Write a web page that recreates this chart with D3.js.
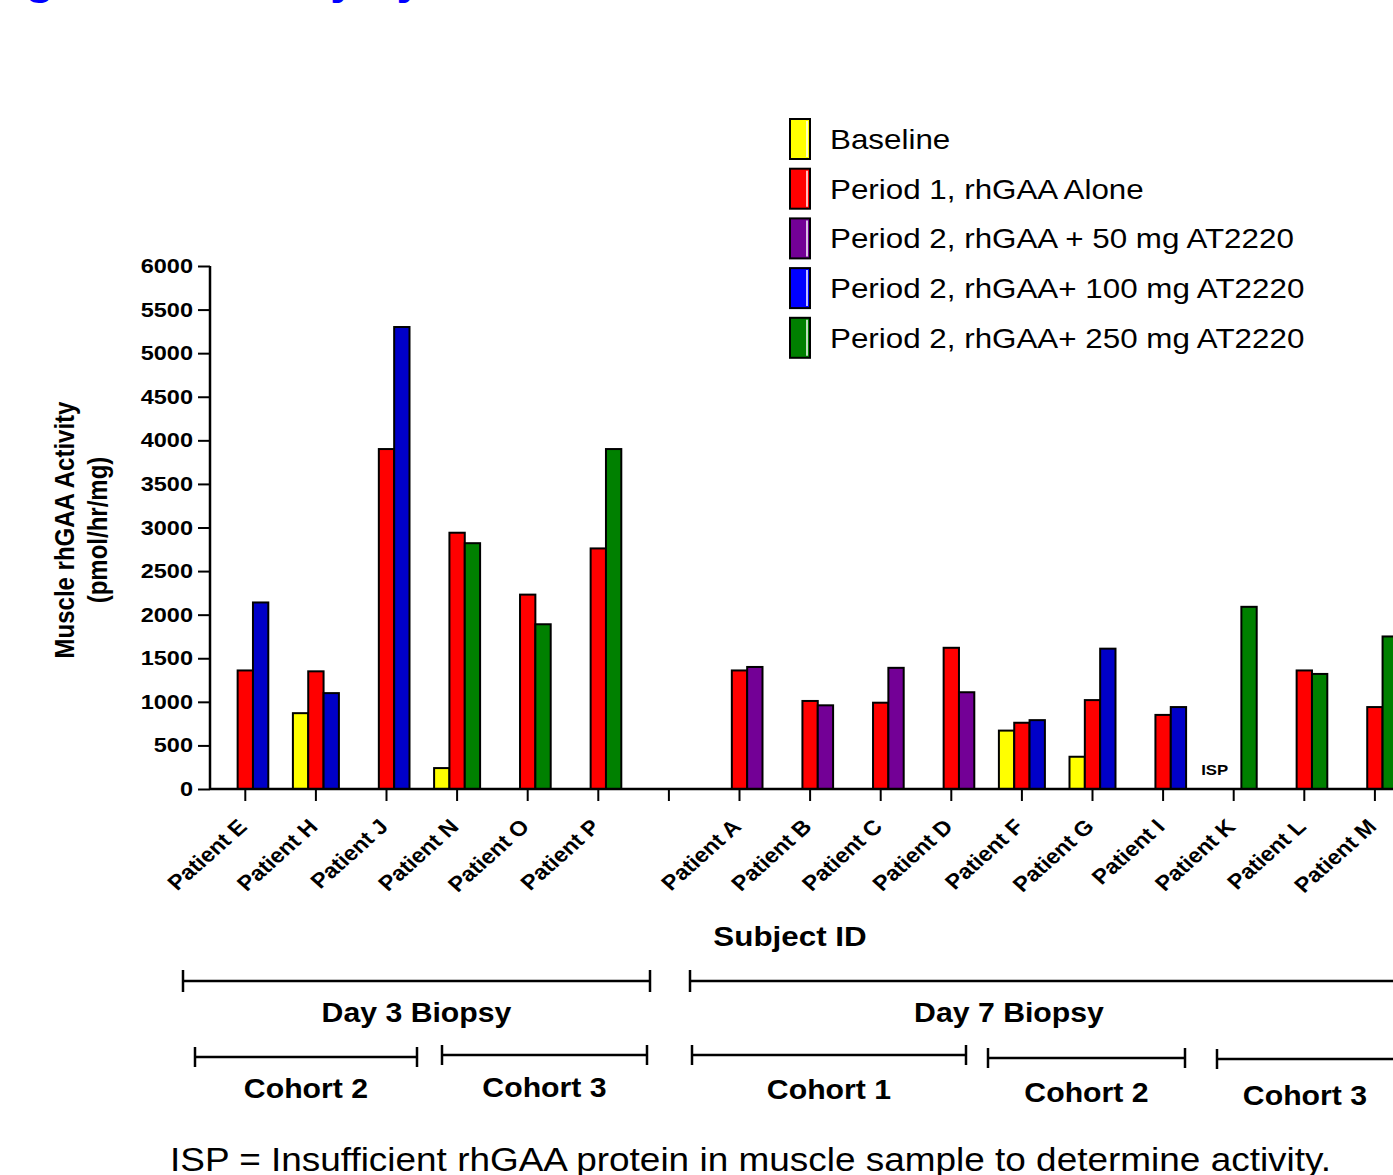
<!DOCTYPE html>
<html>
<head>
<meta charset="UTF-8">
<title>Muscle rhGAA Activity by Subject</title>
<script src="https://cdnjs.cloudflare.com/ajax/libs/d3/7.8.5/d3.min.js"></script>
<style>
* { margin: 0; padding: 0; }
body { background: #fff; overflow: hidden; }
#chart { display: block; width: 1393px; height: 1175px; }
text { font-family: "Liberation Sans", Arial, sans-serif; fill: #000; }
</style>
</head>
<body>
<svg id="chart"></svg>
<script>
// categories ("" is the empty slot between Day 3 and Day 7 groups)
const patients = ["Patient E", "Patient H", "Patient J", "Patient N", "Patient O", "Patient P", "",
  "Patient A", "Patient B", "Patient C", "Patient D", "Patient F", "Patient G", "Patient I",
  "Patient K", "Patient L", "Patient M"];

// pmol/hr/mg, null = not measured
const baseline   = [null, 870, null, 240, null, null, null, null, null, null, null, 670, 370, null, null, null, null];
const period1    = [1360, 1350, 3900, 2940, 2230, 2760, null, 1360, 1010, 990, 1620, 760, 1020, 850, null, 1360, 940];
const p2_50mg    = [null, null, null, null, null, null, null, 1400, 960, 1390, 1110, null, null, null, null, null, null];
const p2_100mg   = [2140, 1100, 5300, null, null, null, null, null, null, null, null, 790, 1610, 940, null, null, null];
const p2_250mg   = [null, null, null, 2820, 1890, 3900, null, null, null, null, null, null, null, null, 2090, 1320, 1750];

const yTicks = [0, 500, 1000, 1500, 2000, 2500, 3000, 3500, 4000, 4500, 5000, 5500, 6000];

const series = [
  { name: "Baseline",                       values: baseline, slot: 0, color: "#ffff00" },
  { name: "Period 1, rhGAA Alone",          values: period1,  slot: 1, color: "#ff0000" },
  { name: "Period 2, rhGAA + 50 mg AT2220", values: p2_50mg,  slot: 2, color: "#730096" },
  { name: "Period 2, rhGAA+ 100 mg AT2220", values: p2_100mg, slot: 2, color: "#0000c8" },
  { name: "Period 2, rhGAA+ 250 mg AT2220", values: p2_250mg, slot: 2, color: "#008000" }
];

const ispPatient = "Patient K";

// bracket annotations below the axis (layout only)
const biopsyBrackets = [
  { label: "Day 3 Biopsy", x0: 183, x1: 650, y: 981, ty: 1022 },
  { label: "Day 7 Biopsy", x0: 690, x1: 1420, y: 981, ty: 1022, tx: 1009 }
];
const cohortBrackets = [
  { label: "Cohort 2", x0: 195, x1: 417, y: 1057, ty: 1098 },
  { label: "Cohort 3", x0: 442, x1: 647, y: 1055, ty: 1097 },
  { label: "Cohort 1", x0: 692, x1: 966, y: 1055, ty: 1099 },
  { label: "Cohort 2", x0: 988, x1: 1185, y: 1058, ty: 1102 },
  { label: "Cohort 3", x0: 1217, x1: 1420, y: 1059, ty: 1105, tx: 1305 }
];

const W = 1393, H = 1175;
const SX = 1.12; // the source picture is stretched horizontally
const svg = d3.select("#chart").attr("width", W).attr("height", H);

function put(sel, x, y, rot) {
  return sel.attr("transform", `translate(${x},${y}) scale(${SX},1)` + (rot ? ` rotate(${rot})` : ""));
}

// title, mostly cut off at the top edge
put(svg.append("text"), -15, -5)
  .attr("font-size", 41).attr("font-weight", "bold").style("fill", "#0000ff")
  .text("Figure 5: Activity by Patient");

const x = d3.scaleBand().domain(d3.range(patients.length)).range([210, 210 + patients.length * 70.6]);
const slot = d3.scaleBand().domain([0, 1, 2]).range([-23, 23]);
const y = d3.scaleLinear().domain([0, 6000]).range([789, 266]);
const cx = i => x(i) + x.bandwidth() / 2;

// bars
const bars = [];
series.forEach(s => s.values.forEach((v, i) => {
  if (v != null) bars.push({ i, v, slot: s.slot, color: s.color });
}));

svg.append("g").selectAll("rect").data(bars).enter().append("rect")
  .attr("x", d => cx(d.i) + slot(d.slot))
  .attr("y", d => y(d.v))
  .attr("width", slot.bandwidth())
  .attr("height", d => y(0) - y(d.v))
  .attr("fill", d => d.color)
  .attr("stroke", "#000")
  .attr("stroke-width", 2);

// y axis
const yAxis = svg.append("g").attr("transform", "translate(210,0)")
  .call(d3.axisLeft(y).tickValues(yTicks).tickSize(12).tickFormat(""));
yAxis.select(".domain").attr("stroke-width", 2.5).attr("d", `M0,${y(6000)}V${y(0)}`);
yAxis.selectAll(".tick line").attr("stroke-width", 2);

svg.append("g").selectAll("text").data(yTicks).enter().append("text")
  .each(function (d) { put(d3.select(this), 193, y(d) + 7); })
  .attr("text-anchor", "end").attr("font-size", 21).attr("font-weight", "bold")
  .text(d => d);

// x axis
const xAxis = svg.append("g").attr("transform", `translate(0,${y(0)})`)
  .call(d3.axisBottom(x).tickSize(12).tickFormat(""));
xAxis.select(".domain").attr("stroke-width", 2.5).attr("d", `M210,0H${210 + patients.length * 70.6}`);
xAxis.selectAll(".tick line").attr("stroke-width", 2);

svg.append("g").selectAll("text").data(patients.map((p, i) => ({ p, i })).filter(d => d.p))
  .enter().append("text")
  .each(function (d) { put(d3.select(this), cx(d.i) + 3, 828, -45); })
  .attr("text-anchor", "end").attr("font-size", 21).attr("font-weight", "bold")
  .text(d => d.p);

// ISP note
put(svg.append("text"), cx(patients.indexOf(ispPatient)) - 19, 775)
  .attr("text-anchor", "middle").attr("font-size", 15).attr("font-weight", "bold").text("ISP");

// axis titles
put(svg.append("text"), 74, 530, -90)
  .attr("text-anchor", "middle").attr("font-size", 24).attr("font-weight", "bold")
  .text("Muscle rhGAA Activity");
put(svg.append("text"), 107, 530, -90)
  .attr("text-anchor", "middle").attr("font-size", 24).attr("font-weight", "bold")
  .text("(pmol/hr/mg)");
put(svg.append("text"), 790, 946)
  .attr("text-anchor", "middle").attr("font-size", 28).attr("font-weight", "bold")
  .text("Subject ID");

// legend
const legend = svg.append("g").selectAll("g").data(series).enter().append("g")
  .attr("transform", (d, i) => `translate(790,${119 + i * 49.7})`);
legend.append("rect").attr("width", 20).attr("height", 40)
  .attr("fill", d => d.color === "#0000c8" ? "#0000ff" : d.color)
  .attr("stroke", "#000").attr("stroke-width", 2);
legend.append("line").attr("x1", 17).attr("x2", 17).attr("y1", 2).attr("y2", 38)
  .attr("stroke", "#fff").attr("stroke-width", 1.5);
legend.append("text")
  .each(function () { put(d3.select(this), 40, 30); })
  .attr("font-size", 28).text(d => d.name);

// brackets
function drawBracket(b, h) {
  const g = svg.append("g").attr("stroke", "#000").attr("stroke-width", 2.5);
  g.append("line").attr("x1", b.x0).attr("x2", b.x1).attr("y1", b.y).attr("y2", b.y);
  [b.x0, b.x1].forEach(xx => g.append("line").attr("x1", xx).attr("x2", xx)
    .attr("y1", b.y - h).attr("y2", b.y + h));
  put(svg.append("text"), b.tx || (b.x0 + b.x1) / 2, b.ty)
    .attr("text-anchor", "middle").attr("font-size", 27).attr("font-weight", "bold")
    .text(b.label);
}
biopsyBrackets.forEach(b => drawBracket(b, 11));
cohortBrackets.forEach(b => drawBracket(b, 10));

// footnote
put(svg.append("text"), 170, 1171)
  .attr("font-size", 33).text("ISP = Insufficient rhGAA protein in muscle sample to determine activity.");
</script>
</body>
</html>
